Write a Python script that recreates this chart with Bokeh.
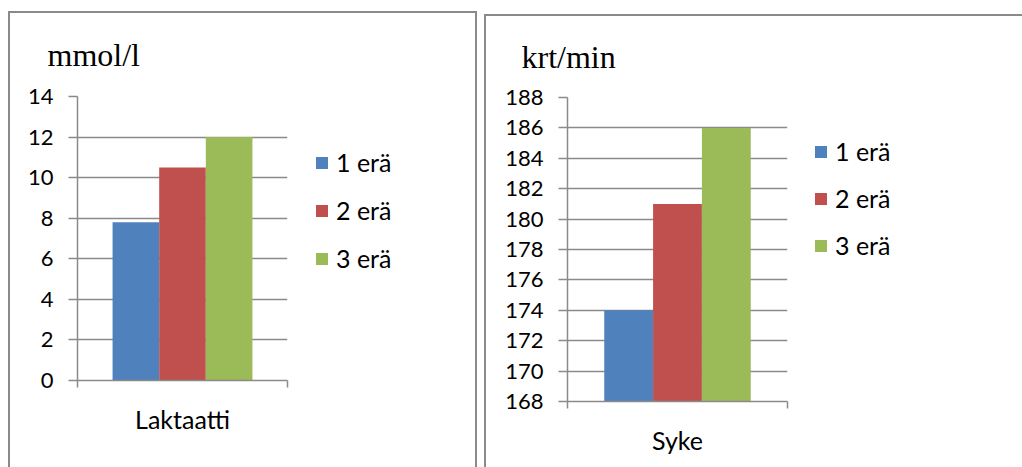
from bokeh.plotting import figure
from bokeh.models import (FactorRange, Range1d, LinearAxis, FixedTicker,
                          Legend, LegendItem, ColumnDataSource, Spacer)
from bokeh.transform import dodge
from bokeh.layouts import row, column
from bokeh.embed import file_html
from bokeh.resources import INLINE

# ---- data ----
series = ["1 erä", "2 erä", "3 erä"]
colors = ["#4F81BD", "#C0504D", "#9BBB59"]

lak_category = "Laktaatti"
lak_unit = "mmol/l"
lak_values = [7.8, 10.5, 12.0]
lak_ticks = [0, 2, 4, 6, 8, 10, 12, 14]

syke_category = "Syke"
syke_unit = "krt/min"
syke_values = [174, 181, 186]
syke_ticks = [168, 170, 172, 174, 176, 178, 180, 182, 184, 186, 188]

GRAY = "#8a8a8a"
FONT = "Lato"


def make_chart(category, unit, values, ticks, width, height, mb,
               title_offset, title_standoff):
    xr = FactorRange(factors=[category], range_padding=0)
    p = figure(width=width, height=height,
               x_range=xr,
               y_range=Range1d(ticks[0], ticks[-1]),
               output_backend="svg", toolbar_location=None,
               x_axis_location=None,
               min_border_left=mb[0], min_border_right=mb[1],
               min_border_top=mb[2], min_border_bottom=mb[3],
               outline_line_color=None, border_fill_color=None,
               background_fill_color=None)
    # y axis
    p.yaxis.ticker = FixedTicker(ticks=ticks)
    p.yaxis.axis_line_color = GRAY
    p.yaxis.axis_line_width = 1.5
    p.yaxis.major_tick_line_color = GRAY
    p.yaxis.major_tick_line_width = 1.5
    p.yaxis.major_tick_out = 9
    p.yaxis.major_tick_in = 0
    p.yaxis.minor_tick_line_color = None
    p.yaxis.major_label_standoff = 15
    p.yaxis.major_label_text_font = FONT
    p.yaxis.major_label_text_font_size = "22px"
    p.yaxis.major_label_text_color = "#000000"
    p.ygrid.grid_line_color = GRAY
    p.ygrid.grid_line_width = 1.5
    p.xgrid.grid_line_color = None

    # x axis: tick marks at the category's edges (synthetic coords 0 and 1),
    # category name at its centre
    xa = LinearAxis(ticker=FixedTicker(ticks=[0.5], minor_ticks=[0, 1]),
                    major_tick_line_color=None, major_tick_out=0, major_tick_in=0,
                    minor_tick_line_color=GRAY, minor_tick_line_width=1.5,
                    minor_tick_out=7, minor_tick_in=0,
                    axis_line_color=GRAY, axis_line_width=1.5,
                    major_label_overrides={0.5: category},
                    major_label_standoff=16,
                    major_label_text_font=FONT,
                    major_label_text_font_size="25px",
                    major_label_text_color="#000000")
    p.add_layout(xa, "below")

    # bars
    bw = 0.222
    for i, (v, c) in enumerate(zip(values, colors)):
        src = ColumnDataSource(dict(cat=[category], value=[v]))
        p.vbar(x=dodge("cat", (i - 1) * bw, range=p.x_range), top="value",
               bottom=ticks[0], width=bw, source=src,
               fill_color=c, line_color=None)

    p.title.text = unit
    p.title.text_font = "Liberation Serif"
    p.title.text_font_size = "32px"
    p.title.text_font_style = "normal"
    p.title.text_color = "#000000"
    p.title.align = "left"
    p.title.offset = title_offset
    p.title.standoff = title_standoff
    return p


def make_legend(category, values, ticks, width, height, xy, spacing):
    lp = figure(width=width, height=height,
                x_range=FactorRange(factors=[category], range_padding=0),
                y_range=Range1d(ticks[0], ticks[-1]), output_backend="svg",
                toolbar_location=None, x_axis_location=None,
                y_axis_location=None, min_border=0,
                min_border_left=0, min_border_right=0,
                min_border_top=0, min_border_bottom=0,
                outline_line_color=None, border_fill_color=None,
                background_fill_color=None)
    lp.grid.visible = False
    items = []
    for s, v, c in zip(series, values, colors):
        src = ColumnDataSource(dict(cat=[category], value=[v]))
        r = lp.vbar(x="cat", top="value", bottom=ticks[0], width=0.2,
                    source=src, fill_color=c, line_color=None, visible=False)
        items.append(LegendItem(label=s, renderers=[r]))
    legend = Legend(items=items, location=xy, orientation="vertical",
                    glyph_width=15, glyph_height=15, label_standoff=7,
                    label_height=30, spacing=spacing, padding=0, margin=0,
                    border_line_color=None, background_fill_alpha=0,
                    inactive_fill_alpha=0,
                    label_text_font=FONT, label_text_font_size="25px",
                    label_text_color="#000000")
    lp.add_layout(legend)
    return lp


p1 = make_chart(lak_category, lak_unit, lak_values, lak_ticks,
                290, 456, (69, 11, 85, 87), -30, 47)
l1 = make_legend(lak_category, lak_values, lak_ticks, 179, 456, (16, 107), 18)
panel1 = row(p1, l1, stylesheets=[
    ":host { box-shadow: inset 2px 2px 0 0 %s, inset -2px 0 0 0 %s; }" % (GRAY, GRAY)])

p2 = make_chart(syke_category, syke_unit, syke_values, syke_ticks,
                315, 453, (83, 12, 82, 66), -46, 45)
l2 = make_legend(syke_category, syke_values, syke_ticks, 223, 453, (14, 141), 17)
panel2 = row(p2, l2, stylesheets=[
    ":host { box-shadow: inset 2px 2px 0 0 %s; }" % GRAY])

layout = row(Spacer(width=8), column(Spacer(height=11), panel1),
             Spacer(width=7), column(Spacer(height=14), panel2))

open("out.html", "w").write(file_html(layout, INLINE))
